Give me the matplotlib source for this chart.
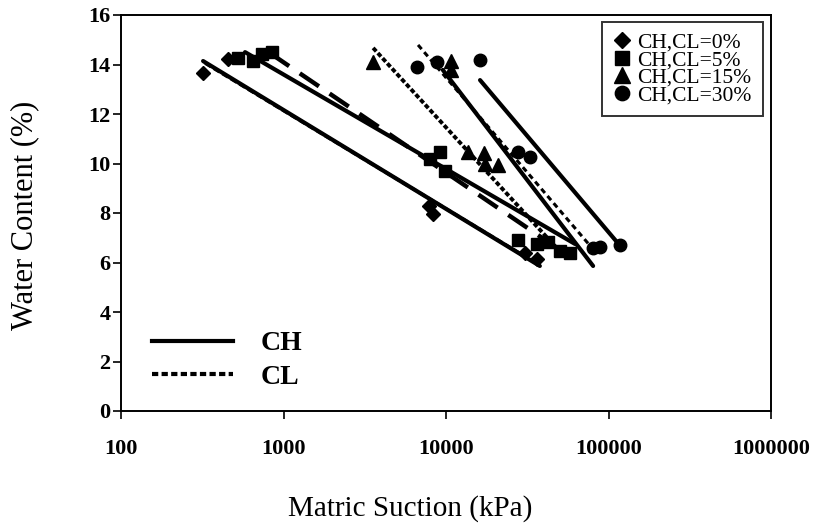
import matplotlib
matplotlib.use("Agg")
import matplotlib.pyplot as plt
from matplotlib.lines import Line2D
import matplotlib.ticker as mticker

plt.rcParams['font.family'] = ['Liberation Serif', 'DejaVu Serif']

# Measured water content vs matric suction for each clay mixture
series_labels = ["CH,CL=0%", "CH,CL=5%", "CH,CL=15%", "CH,CL=30%"]
series_markers = ["D", "s", "^", "o"]

suction_0 = [320, 455, 7850, 8320, 30600, 36300]
water_0 = [13.66, 14.22, 8.28, 7.96, 6.38, 6.14]
suction_5 = [525, 649, 738, 850, 7950, 9180, 9860, 27700, 36300, 42500, 50000, 58000]
water_5 = [14.26, 14.14, 14.42, 14.5, 10.18, 10.46, 9.7, 6.91, 6.75, 6.83, 6.46, 6.38]
suction_15 = [3560, 10740, 10740, 13650, 17150, 17400, 20900]
water_15 = [14.1, 14.14, 13.78, 10.46, 10.42, 10.0, 9.94]
suction_30 = [6640, 8810, 16200, 27700, 32900, 80400, 88700, 117000]
water_30 = [13.9, 14.1, 14.18, 10.46, 10.26, 6.59, 6.63, 6.7]

# Log-linear fits, given by their end points (suction, water content)
ch_fit_suction = [(320, 37800), (580, 62200), (9560, 80400), (16200, 117000)]
ch_fit_water = [(14.14, 5.86), (14.5, 6.75), (13.78, 5.86), (13.37, 6.7)]
cl_fit_suction = [(330, 36300), (826, 50400), (3560, 52600), (6730, 79100)]
cl_fit_water = [(14.05, 5.95), (14.46, 6.5), (14.67, 6.3), (14.79, 6.59)]

x_ticks = [100, 1000, 10000, 100000, 1000000]
y_ticks = [0, 2, 4, 6, 8, 10, 12, 14, 16]

fig = plt.figure(figsize=(8.16, 5.28), dpi=100)
ax = fig.add_axes([121 / 816, 1 - 411 / 528, 650 / 816, 396 / 528])

# fitted lines
for xs, ys in zip(ch_fit_suction, ch_fit_water):
    ax.plot(xs, ys, color="black", lw=3.0, solid_capstyle="round", zorder=2)

cl_styles = [(0, (2, 1)), (0, (5.2, 2.9)), (0, (1.2, 0.6)), (0, (1.8, 1.3))]
cl_widths = [2.4, 3.2, 2.8, 2.2]
for xs, ys, ls, lw in zip(cl_fit_suction, cl_fit_water, cl_styles, cl_widths):
    ax.plot(xs, ys, color="black", lw=lw, linestyle=ls, zorder=2)

# measured points
point_sets = [(suction_0, water_0), (suction_5, water_5),
              (suction_15, water_15), (suction_30, water_30)]
marker_sizes = [7.2, 9.0, 9.4, 9.0]
handles = []
for (xs, ys), mk, ms, lab in zip(point_sets, series_markers, marker_sizes, series_labels):
    h, = ax.plot(xs, ys, linestyle="none", marker=mk, ms=ms, color="black",
                 markeredgecolor="black", zorder=3, label=lab)
    handles.append(h)

ax.set_xscale("log")
ax.set_xlim(100, 1000000)
ax.set_ylim(0, 16)
ax.xaxis.set_major_locator(mticker.FixedLocator(x_ticks))
ax.xaxis.set_minor_locator(mticker.NullLocator())
ax.xaxis.set_major_formatter(mticker.FuncFormatter(lambda v, p: f"{int(round(v))}"))
ax.set_yticks(y_ticks)

for sp in ax.spines.values():
    sp.set_linewidth(1.4)
    sp.set_color("black")

ax.tick_params(axis="both", direction="out", length=5.5, width=1.2, labelsize=16)
ax.tick_params(axis="x", pad=15)
ax.tick_params(axis="y", pad=2)
for lab in ax.get_xticklabels() + ax.get_yticklabels():
    lab.set_fontweight("bold")

# marker legend
leg1 = ax.legend(handles=handles, loc="upper left",
                 bbox_to_anchor=(602 / 816, 1 - 22 / 528), bbox_transform=fig.transFigure,
                 fontsize=15.5, frameon=True, fancybox=False, edgecolor="black",
                 handlelength=0.9, handletextpad=0.25, labelspacing=-0.12,
                 borderpad=0.5, borderaxespad=0, markerscale=1.15)
leg1.get_frame().set_linewidth(1.4)
ax.add_artist(leg1)

# line-style legend
style_handles = [Line2D([], [], color="black", lw=3.0),
                 Line2D([], [], color="black", lw=3.0, linestyle=(0, (1.5, 0.8)))]
leg2 = ax.legend(handles=style_handles, labels=["CH", "CL"], loc="lower left",
                 bbox_to_anchor=(152 / 816, 1 - 390 / 528), bbox_transform=fig.transFigure,
                 prop={"size": 20, "weight": "bold"}, frameon=False,
                 handlelength=2.9, handletextpad=1.0, labelspacing=0.3,
                 borderpad=0, borderaxespad=0)

fig.text(410 / 816, 1 - 509 / 528, "Matric Suction (kPa)", ha="center", va="center",
         fontsize=21)
fig.text(25 / 816, 1 - 215 / 528, "Water Content (%)", ha="center", va="center",
         rotation=90, fontsize=22)

fig.savefig("out.png", dpi=100)
